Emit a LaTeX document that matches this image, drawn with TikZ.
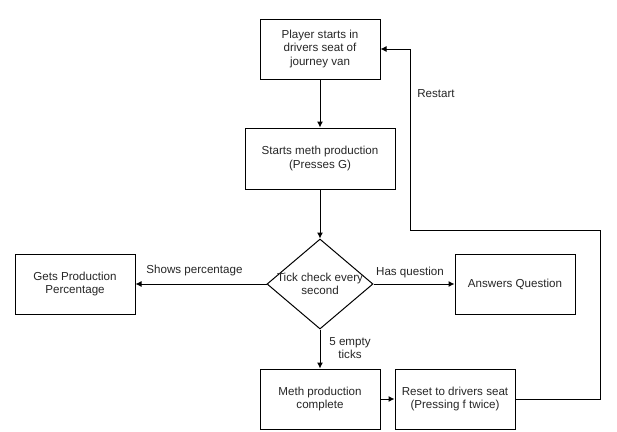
\documentclass[tikz,border=0pt]{standalone}
\usepackage{fontspec}
\setmainfont{Liberation Sans}
\usetikzlibrary{shapes.geometric,arrows.meta}
\begin{document}
\begin{tikzpicture}[x=1pt,y=-1pt,
  every node/.style={font=\fontsize{11.6}{13.5}\selectfont, text=black!85},
  box/.style={draw, line width=1pt, minimum width=120pt, minimum height=60pt, align=center, inner sep=1pt},
  dec/.style={draw, diamond, line width=1pt, minimum width=106pt, minimum height=90pt, align=center, inner sep=0pt},
  conn/.style={draw, line width=1pt, -{Latex[length=6pt,width=6pt]}},
  lbl/.style={align=center, inner sep=1pt}]
\useasboundingbox (0,0) rectangle (617,431);
\node[box] (start) at (320,49) {Player starts in\\drivers seat of\\journey van};
\node[box, minimum width=150pt, minimum height=61pt] (prod) at (320,158.5) {Starts meth production\\(Presses G)};
\node[dec] (tick) at (320,284) {};
\node[align=center, inner sep=0pt] at (320,284) {Tick check every\\second};
\node[box] (perc) at (75,284) {Gets Production\\Percentage};
\node[box] (ans) at (515,284) {Answers Question};
\node[box] (done) at (320,399) {Meth production\\complete};
\node[box] (reset) at (455,399) {Reset to drivers seat\\(Pressing f twice)};
\coordinate (c1) at (600,399);
\coordinate (c2) at (600,230);
\coordinate (c3) at (410,230);
\coordinate (c4) at (410,49);
\draw[conn] (start) -- (prod);
\draw[conn] (prod) -- (tick);
\draw[conn] (tick) -- (perc);
\draw[conn] (tick) -- (ans);
\draw[conn] (tick) -- (done);
\draw[conn] (done) -- (reset);
\draw[conn] (reset.east) -- (c1) -- (c2) -- (c3) -- (c4) -- (start.east);
\node[lbl] at (194.5,270) {Shows percentage};
\node[lbl] at (410,272) {Has question};
\node[lbl] at (350,348) {5 empty\\ticks};
\node[lbl] at (436,94) {Restart};
\end{tikzpicture}
\end{document}
